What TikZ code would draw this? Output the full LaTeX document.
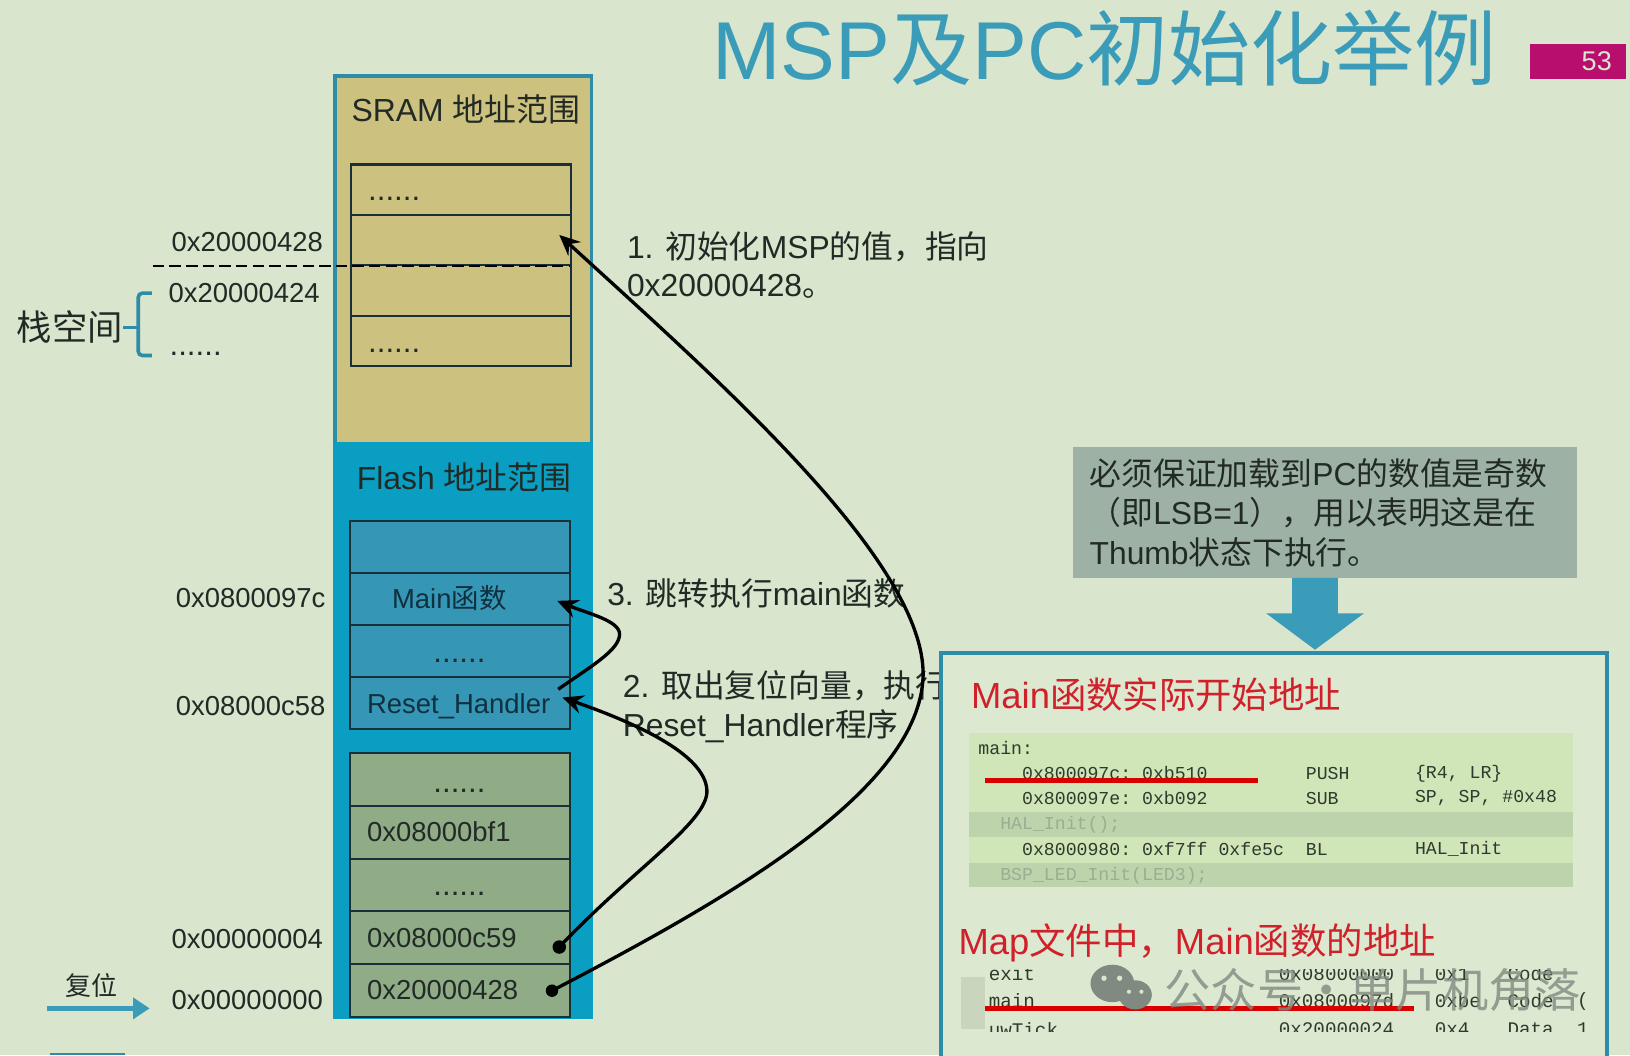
\documentclass[tikz,border=0pt]{standalone}
\usepackage{fontspec}
\setmainfont{Liberation Sans}
\setmonofont{Liberation Mono}
\newfontfamily\cjk{Noto Sans CJK SC}
\definecolor{pagebg}{HTML}{D9E5CC}
\definecolor{tealline}{HTML}{2F8CA6}
\definecolor{tealtext}{HTML}{3A9CB8}
\definecolor{sramfill}{HTML}{CDC17F}
\definecolor{flashfill}{HTML}{0A9FC2}
\definecolor{flashrow}{HTML}{3597B5}
\definecolor{vecrow}{HTML}{8FAC87}
\definecolor{rowline}{HTML}{17303A}
\definecolor{inktext}{HTML}{222A26}
\definecolor{flashtext}{HTML}{10303F}
\definecolor{notefill}{HTML}{9DB2A4}
\definecolor{tagfill}{HTML}{B80F6E}
\definecolor{redtext}{HTML}{D0202A}
\definecolor{tablelight}{HTML}{D0E6B8}
\definecolor{tabledark}{HTML}{BDD3AC}
\definecolor{codetext}{HTML}{2E3A2C}
\definecolor{codefaint}{HTML}{9AAE92}
\definecolor{markfill}{HTML}{808A80}
\usetikzlibrary{arrows.meta}
\tikzset{
  lbl/.style={inner sep=0pt,text=inktext,font=\fontsize{26.4}{30}\selectfont},
  bigdots/.style={inner sep=0pt,anchor=base,text=inktext,font=\fontsize{30}{30}\selectfont},
  notetext/.style={inner sep=0pt,anchor=west,align=left,text=inktext,font=\fontsize{30.6}{38}\selectfont},
  redhead/.style={inner sep=0pt,anchor=west,text=redtext,font=\fontsize{35}{40}\selectfont},
  code/.style={inner sep=0pt,anchor=west,text=codetext,font=\ttfamily\fontsize{17.5}{20}\selectfont},
  mapcode/.style={code,font=\ttfamily\fontsize{18.5}{20}\selectfont},
  faint/.style={code,text=codefaint},
  sramrow/.style={draw=rowline,line width=2pt,minimum width=212pt,minimum height=48.5pt,inner sep=0pt},
  flashbox/.style={sramrow,fill=flashrow,minimum width=211pt,minimum height=50pt},
  vecbox/.style={sramrow,fill=vecrow,minimum width=211pt,minimum height=51pt},
  region/.style={draw=tealline,line width=3.5pt},
  link/.style={line width=3.2pt,black,-{Stealth[length=20pt,width=18pt,inset=7pt]}},
  redmark/.style={draw=red!85!black,line width=5pt}
}
\begin{document}
\begin{tikzpicture}[x=1pt,y=-1pt]
\useasboundingbox (0,0) rectangle (1568,1015);
\fill[pagebg] (0,0) rectangle (1568,1015);
% title and page tag
\node[inner sep=0pt,anchor=west,text=tealtext,font=\fontsize{79}{80}\selectfont] (title) at (685,46) {MSP{\cjk 及}PC{\cjk 初始化举例}};
\node[fill=tagfill,text=pagebg,minimum width=92pt,minimum height=34pt,inner sep=0pt,font=\fontsize{26}{28}\selectfont,text depth=0pt] (tag) at (1518,59) {\hspace*{36pt}53};
% memory regions
\draw[region,fill=sramfill] (322,73) rectangle (569,427);
\draw[region,fill=flashfill,draw=flashfill] (322,427) rectangle (569,978);
\node[lbl,font=\fontsize{30.7}{34}\selectfont,anchor=west] (sramtitle) at (338,105) {SRAM {\cjk 地址范围}};
\node[lbl,font=\fontsize{30.7}{34}\selectfont,anchor=west] (flashtitle) at (343,459) {Flash {\cjk 地址范围}};
% SRAM rows
\node[sramrow] (s1) at (443.5,182.5) {};
\node[sramrow] (s2) at (443.5,231) {};
\node[sramrow] (s3) at (443.5,279.5) {};
\node[sramrow] (s4) at (443.5,328) {};
\node[bigdots,anchor=base west] at (354,193) {......};
\node[bigdots,anchor=base west] at (354,339) {......};
% Flash rows
\node[flashbox] (f1) at (442.5,526) {};
\node[flashbox] (f2) at (442.5,576) {};
\node[flashbox] (f3) at (442.5,626) {};
\node[flashbox] (f4) at (442.5,676) {};
\node[vecbox] (v1) at (442.5,749.5) {};
\node[vecbox] (v2) at (442.5,800.5) {};
\node[vecbox] (v3) at (442.5,851.5) {};
\node[vecbox] (v4) at (442.5,902) {};
\node[vecbox] (v5) at (442.5,952.5) {};
\node[lbl,text=flashtext,anchor=west] at (377,575) {Main{\cjk 函数}};
\node[bigdots] at (442,637) {......};
\node[lbl,text=flashtext,anchor=west] at (353,679) {Reset\_Handler};
\node[bigdots] at (442,762) {......};
\node[bigdots] at (442,861) {......};
\node[lbl,anchor=west] at (353,800) {0x08000bf1};
\node[lbl,anchor=west] at (353,902) {0x08000c59};
\node[lbl,anchor=west] at (353,952) {0x20000428};
% addresses on the left
\node[lbl,anchor=west] (a1) at (165,233) {0x20000428};
\node[lbl,anchor=west] (a2) at (162,282) {0x20000424};
\node[bigdots,anchor=base west] (a3) at (163,342) {......};
\node[lbl,anchor=west] (a4) at (169,575) {0x0800097c};
\node[lbl,anchor=west] (a5) at (169,679) {0x08000c58};
\node[lbl,anchor=west] (a6) at (165,903) {0x00000004};
\node[lbl,anchor=west] (a7) at (165,962) {0x00000000};
\coordinate (dashl) at (147,256);
\coordinate (dashr) at (548,256);
\draw[black,line width=1.5pt,dash pattern=on 11pt off 5pt] (dashl) -- (dashr);
% stack space brace
\node[lbl,font=\fontsize{34}{36}\selectfont\cjk,anchor=west] (stack) at (16,315) {栈空间};
\draw[tealline,line width=3.5pt,rounded corners=4pt] (146,282) -- (133,282) -- (133,342) -- (146,342);
\draw[tealline,line width=3pt] (stack.east) -- (133,315);
% reset arrow
\node[lbl,font=\fontsize{25}{28}\selectfont\cjk] (reset) at (88,948) {复位};
\coordinate (rsta) at (45,970);
\coordinate (rstb) at (144,970);
\draw[tealtext,line width=4.5pt,-{Triangle[length=16pt,width=20pt]}] (rsta) -- (rstb);
\draw[tealline,line width=2pt] (48,1014) -- (120,1014);
% step texts
\node[notetext,font=\fontsize{30.6}{37}\selectfont] (n1) at (603,255) {1. {\cjk 初始化}MSP{\cjk 的值，指向}\\0x20000428{\cjk 。}};
\node[notetext] (n2) at (599,680) {2. {\cjk 取出复位向量，执行}\\Reset\_Handler{\cjk 程序}};
\node[notetext] (n3) at (584,571) {3. {\cjk 跳转执行}main{\cjk 函数}};
% grey note with block arrow
\node[fill=notefill,minimum width=485pt,minimum height=126pt,inner sep=0pt] (note) at (1274.5,493) {};
\node[notetext] (notetxt) at (1048,493) {{\cjk 必须保证加载到}PC{\cjk 的数值是奇数}\\{\cjk （即}LSB=1{\cjk ），用以表明这是在}\\Thumb{\cjk 状态下执行。}};
\fill[tealtext] (1243,556) -- (1287,556) -- (1287,590) -- (1312,590) -- (1265,625) -- (1218,590) -- (1243,590) -- cycle;
% lower right panel
\draw[region,fill=pagebg!90!white] (905,628) rectangle (1546,1030);
\node[redhead] (h1) at (934,668) {Main{\cjk 函数实际开始地址}};
\node[redhead] (h2) at (922,907) {Map{\cjk 文件中，}Main{\cjk 函数的地址}};
% listing
\fill[tablelight] (932,705) rectangle (1513,853);
\fill[tabledark] (932,781) rectangle (1513,805);
\fill[tabledark] (932,830) rectangle (1513,853);
\node[code] at (941,720) {main:};
\node[code] at (983,744) {0x800097c: 0xb510};
\node[code] at (1256,744) {PUSH};
\node[code] at (1361,744) {\{R4, LR\}};
\node[code] at (983,768) {0x800097e: 0xb092};
\node[code] at (1256,768) {SUB};
\node[code] at (1361,768) {SP, SP, \#0x48};
\node[faint] at (962,793) {HAL\_Init();};
\node[code] at (983,817) {0x8000980: 0xf7ff 0xfe5c};
\node[code] at (1256,817) {BL};
\node[code] at (1361,817) {HAL\_Init};
\node[faint] at (962,842) {BSP\_LED\_Init(LED3);};
\draw[redmark] (948,751) -- (1210,751);
% map file rows
\fill[black!7!pagebg] (924,940) rectangle (948,990);
\begin{scope}
\clip (930,933) rectangle (1526,992);
\node[mapcode] at (951,937) {exit};
\node[mapcode] at (1230,937) {0x08000000};
\node[mapcode] at (1380,937) {0x1};
\node[mapcode] at (1450,937) {Code};
\node[mapcode] at (951,963) {main};
\node[mapcode] at (1230,963) {0x0800097d};
\node[mapcode] at (1380,963) {0xbe};
\node[mapcode] at (1450,963) {Code};
\node[mapcode] at (1517,963) {(};
\node[mapcode] at (951,990) {uwTick};
\node[mapcode] at (1230,990) {0x20000024};
\node[mapcode] at (1380,990) {0x4};
\node[mapcode] at (1450,990) {Data};
\node[mapcode] at (1517,990) {1};
\end{scope}
\draw[redmark] (948,970) -- (1360,970);
% watermark
\fill[markfill] (1070,946) ellipse (21pt and 18pt);
\fill[markfill] (1092,957) ellipse (16pt and 14pt);
\fill[pagebg] (1062,941) circle (2.6pt) (1077,941) circle (2.6pt) (1086,954) circle (2pt) (1098,954) circle (2pt);
\node[inner sep=0pt,anchor=west,text=markfill,opacity=.8,font=\fontsize{44.5}{48}\selectfont\cjk] (mark) at (1120,952) {公众号·单片机角落};
% arrows
\coordinate (d1) at (531,953);
\coordinate (d2) at (538,911);
\coordinate (d3) at (537,663);
\coordinate (t1) at (538,226);
\coordinate (t2) at (541,671);
\coordinate (t3) at (536,578);
\fill (d1) circle (6pt);
\fill (d2) circle (6.5pt);
\draw[link] (d1) .. controls (700,865) and (885,760) .. (888,650) .. controls (890,540) and (690,365) .. (t1);
\draw[link] (d2) .. controls (610,835) and (682,790) .. (680,760) .. controls (678,725) and (610,695) .. (t2);
\draw[link] (d3) .. controls (570,640) and (596,625) .. (596,610) .. controls (596,597) and (565,590) .. (t3);
\end{tikzpicture}
\end{document}
